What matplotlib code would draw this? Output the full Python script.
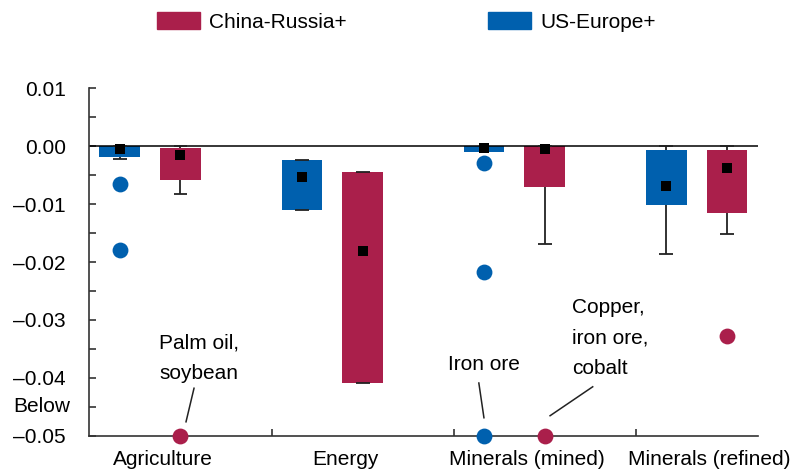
import matplotlib.pyplot as plt
from matplotlib.patches import Patch
import numpy as np

plt.rcParams['font.family'] = ['Liberation Sans', 'DejaVu Sans']

categories = ["Agriculture", "Energy", "Minerals (mined)", "Minerals (refined)"]

# US-Europe+ (blue)
us_box_hi = [0.0, -0.0023, 0.0, -0.0007]
us_box_lo = [-0.0019, -0.0111, -0.0010, -0.0101]
us_whisk_hi = [0.0, -0.0023, np.nan, 0.0]
us_whisk_lo = [-0.0022, -0.0111, np.nan, -0.0187]
us_mark = [-0.0005, -0.0054, -0.0003, -0.0069]
us_out_cat = [0, 0, 2, 2, 2]
us_out_val = [-0.0066, -0.0179, -0.0029, -0.0217, -0.05]

# China-Russia+ (red)
cr_box_hi = [-0.0003, -0.0045, 0.0, -0.0007]
cr_box_lo = [-0.0059, -0.0409, -0.0071, -0.0115]
cr_whisk_hi = [0.0, -0.0045, 0.0, 0.0]
cr_whisk_lo = [-0.0082, -0.0409, -0.0169, -0.0151]
cr_mark = [-0.0016, -0.0181, -0.0005, -0.0037]
cr_out_cat = [0, 2, 3]
cr_out_val = [-0.05, -0.05, -0.0327]

blue = "#0060AE"
red = "#AA1F4B"

fig = plt.figure(figsize=(7.92, 4.74), dpi=100)
ax = fig.add_axes([0.1128, 0.0808, 0.957 - 0.1128, 0.8137 - 0.0808])

x = np.arange(len(categories))
w = 0.223
off_us = -0.333
off_cr = 0.0
cap = 0.038


def draw_series(xc, hi, lo, whi, wlo, mark, color):
    hi = np.array(hi)
    lo = np.array(lo)
    ax.bar(xc, hi - lo, bottom=lo, width=w, color=color, zorder=2)
    ax.vlines(xc, wlo, whi, color="#222222", lw=1.3, zorder=1)
    for xx, a, b in zip(xc, whi, wlo):
        if np.isnan(a):
            continue
        ax.hlines([a, b], xx - cap, xx + cap, color="#222222", lw=1.3, zorder=3)
    ax.scatter(xc, mark, marker="s", s=52, color="black", zorder=5, lw=0)


draw_series(x + off_us, us_box_hi, us_box_lo, us_whisk_hi, us_whisk_lo, us_mark, blue)
draw_series(x + off_cr, cr_box_hi, cr_box_lo, cr_whisk_hi, cr_whisk_lo, cr_mark, red)

ax.scatter(np.array(us_out_cat) + off_us, us_out_val, s=130, color=blue, lw=0,
           zorder=6, clip_on=False)
ax.scatter(np.array(cr_out_cat) + off_cr, cr_out_val, s=130, color=red, lw=0,
           zorder=6, clip_on=False)

ax.axhline(0, color="black", lw=1.1, zorder=2.5)

ax.set_xlim(-0.5, 3.17)
ax.set_ylim(-0.05, 0.01)

for s in ["top", "right"]:
    ax.spines[s].set_visible(False)
for s in ["left", "bottom"]:
    ax.spines[s].set_linewidth(1.2)
    ax.spines[s].set_color("#333333")

yt = [0.01, 0.0, -0.01, -0.02, -0.03, -0.04, -0.05]
ylabels = ["0.01", "0.00", "\u20130.01", "\u20130.02", "\u20130.03", "\u20130.04", "\u20130.05"]
ax.set_yticks(yt)
ax.set_yticklabels(ylabels, fontsize=15)
ax.set_yticks([0.005, -0.005, -0.015, -0.025, -0.035, -0.045], minor=True)
ax.tick_params(axis="y", which="both", direction="in", length=5, width=1.2,
               color="#333333", pad=17)
ax.text(-0.029, -0.045, "Below", transform=ax.get_yaxis_transform(),
        ha="right", va="center", fontsize=15)

ax.set_xticks(x - 0.096)
ax.set_xticklabels(categories, fontsize=15)
ax.tick_params(axis="x", which="major", length=0, pad=10)
ax.set_xticks([0.5, 1.5, 2.5], minor=True)
ax.tick_params(axis="x", which="minor", direction="in", length=5, width=1.2,
               color="#333333")

# annotations
ax.text(-0.1175, -0.0323, "Palm oil,\nsoybean", fontsize=15, ha="left", va="top",
        linespacing=1.8)
ax.plot([0.0746, 0.0307], [-0.0418, -0.0476], color="#222222", lw=1.1)
ax.text(1.467, -0.0361, "Iron ore", fontsize=15, ha="left", va="top")
ax.plot([1.638, 1.666], [-0.0409, -0.0469], color="#222222", lw=1.1)
ax.text(2.148, -0.02626, "Copper,\niron ore,\ncobalt", fontsize=15, ha="left",
        va="top", linespacing=1.75)
ax.plot([2.263, 2.029], [-0.04155, -0.04655], color="#222222", lw=1.1)

handles = [Patch(color=red, label="China-Russia+"), Patch(color=blue, label="US-Europe+")]
fig.legend(handles=handles, loc="center left", bbox_to_anchor=(0.198, 0.954),
           ncol=2, frameon=False, fontsize=15, handlelength=2.07, handleheight=0.87,
           handletextpad=0.43, columnspacing=6.8, borderpad=0, borderaxespad=0)

fig.savefig("out.png", dpi=100)
